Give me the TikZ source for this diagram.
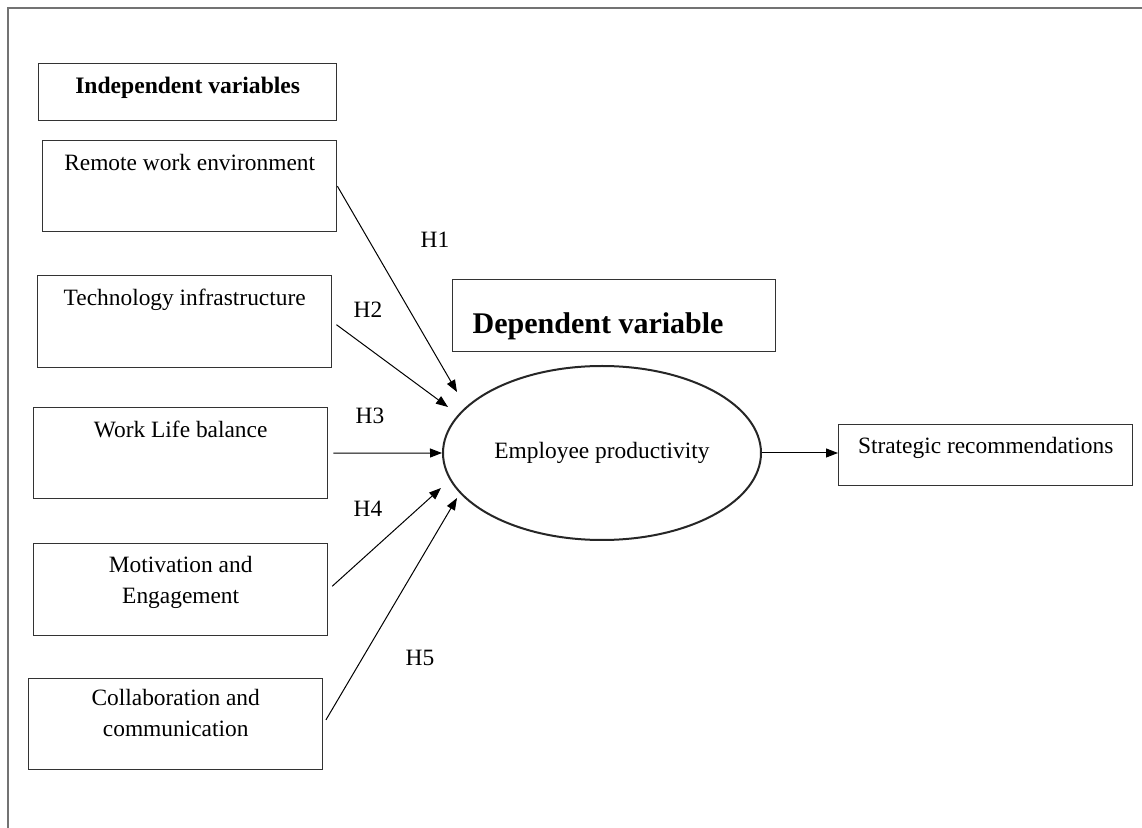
\documentclass[tikz,border=0pt]{standalone}
\usepackage{fontspec}
\setmainfont{Liberation Serif}
\usetikzlibrary{shapes.geometric,arrows.meta}
\begin{document}
\begin{tikzpicture}
  [x=0.5pt,y=-0.5pt,
   varbox/.style={draw=black!80,line width=0.7pt,inner sep=0pt,anchor=north west,
     text width=147pt,align=flush center,font=\fontsize{11.7}{15.5}\selectfont,
     text height=15pt,text depth=30.5pt},
   pairbox/.style={varbox,text height=14.5pt,text depth=31.5pt},
   headbox/.style={varbox,font=\fontsize{11.8}{14}\selectfont\bfseries},
   hyp/.style={-{Triangle[length=6pt,width=4.5pt]},line width=0.5pt,shorten <=2.5pt},
   hlab/.style={font=\fontsize{11.7}{14}\selectfont,inner sep=0pt}]

  \useasboundingbox (0,0) rectangle (1142,828);
  \draw[black!55,line width=1pt] (1142,8) -- (8,8) -- (8,828);

  \node[headbox,text width=149pt,text height=15pt,text depth=13.5pt] (indep) at (38,63) {Independent variables};

  \node[varbox] (remote) at (42,140) {Remote work environment};
  \node[varbox,text depth=31pt] (tech) at (37,275) {Technology infrastructure};
  \node[varbox] (wlb) at (33,407) {Work Life balance};
  \node[pairbox] (motiv) at (33,543) {Motivation and\\Engagement};
  \node[pairbox,text height=13.5pt,text depth=32pt] (collab) at (28,678) {Collaboration and\\communication};

  \node[draw=black!80,line width=0.7pt,anchor=north west,inner xsep=10pt,inner ysep=0pt,
    text width=141.5pt,align=flush left,text height=27pt,text depth=9pt,
    font=\fontsize{15}{18}\selectfont\bfseries] (dep) at (452,279) {Dependent variable};

  \node[ellipse,draw=black!85,line width=1pt,minimum width=159pt,minimum height=87pt,
    inner sep=0pt,font=\fontsize{11.7}{14}\selectfont] (epr) at (602,453) {Employee productivity};

  \node[varbox,text height=14.5pt,text depth=16pt] (strat) at (838,424) {Strategic recommendations};

  \coordinate (tip1) at (457,392);
  \coordinate (tip2) at (448,407);
  \coordinate (tip4) at (441,488);
  \coordinate (tip5) at (457,498);

  \draw[hyp,shorten <=0pt] (remote.east) -- (tip1);
  \draw[hyp] (tech.east) -- (tip2);
  \draw[hyp] (wlb.east) -- (epr.west);
  \draw[hyp] (motiv.east) -- (tip4);
  \draw[hyp] (collab.east) -- (tip5);
  \draw[hyp,shorten <=0pt] (epr.east) -- (epr.east -| strat.west);

  \node[hlab] (h1) at (435,240) {H1};
  \node[hlab] (h2) at (368,310) {H2};
  \node[hlab] (h3) at (370,416) {H3};
  \node[hlab] (h4) at (368,509) {H4};
  \node[hlab] (h5) at (420,658) {H5};
\end{tikzpicture}
\end{document}
